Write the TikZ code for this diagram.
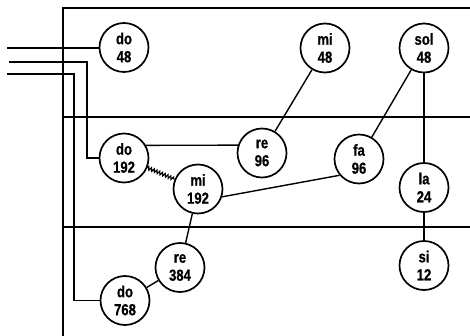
\documentclass[tikz,border=0pt]{standalone}
\usepackage{fontspec}
\newfontfamily\lbl{Liberation Sans}[FakeStretch=0.82, BoldFont={Liberation Sans Bold}, BoldFeatures={FakeStretch=0.82, FakeBold=0.6}]
\newcommand\lblfont{\lbl\bfseries\fontsize{16}{18}\selectfont}
\usetikzlibrary{decorations.pathmorphing}
\tikzset{
  tone/.style={circle, draw, line width=1.7pt, minimum size=49pt, inner sep=0pt,
    align=center, font=\lblfont},
  wire/.style={line width=1.4pt},
  frame/.style={line width=1.5pt},
  coil/.style={line width=1.2pt, decorate, decoration={zigzag, amplitude=1.6pt, segment length=3pt}}
}
\begin{document}
\begin{tikzpicture}[x=1pt,y=-1pt]
\useasboundingbox (0,0) rectangle (470,336);
% frame
\draw[frame] (470,8) -- (63,8) -- (63,336);
\draw[frame] (63,117) -- (470,117);
\draw[frame] (63,227) -- (470,227);
% nodes
\node[tone] (do48)  at (124,47.5) {do\\48};
\node[tone] (mi48)  at (325,48)   {mi\\48};
\node[tone] (sol48) at (424,48)   {sol\\48};
\node[tone] (do192) at (124,158)  {do\\192};
\node[tone] (re96)  at (262,153)  {re\\96};
\node[tone] (fa96)  at (359,159)  {fa\\96};
\node[tone] (mi192) at (198,189)  {mi\\192};
\node[tone] (la24)  at (424,187.5){la\\24};
\node[tone] (re384) at (180,267.5){re\\384};
\node[tone] (si12)  at (424,265.5){si\\12};
\node[tone] (do768) at (125,300.5){do\\768};
% feed lines
\coordinate (f1) at (7,48);
\coordinate (f2) at (9,62);
\coordinate (f3) at (7,74);
\draw[wire] (f1) -- (do48.west |- f1);
\draw[wire] (f2) -- (87,62) -- (87,158) -- (do192.west);
\draw[wire] (f3) -- (74,74) -- (74,300.5) -- (do768.west);
% connections
\draw[wire] (mi48) -- (re96);
\draw[wire] (sol48) -- (fa96);
\draw[wire] (sol48.south) -- (la24.north);
\draw[wire] (la24.south) -- (si12.north);
\draw[wire] (do192.30) -- (re96.162);
\draw[coil] (do192) -- (mi192);
\draw[wire] (mi192.-18) -- (fa96.220);
\draw[wire] (mi192) -- (re384);
\draw[wire] (re384) -- (do768);
\end{tikzpicture}
\end{document}
